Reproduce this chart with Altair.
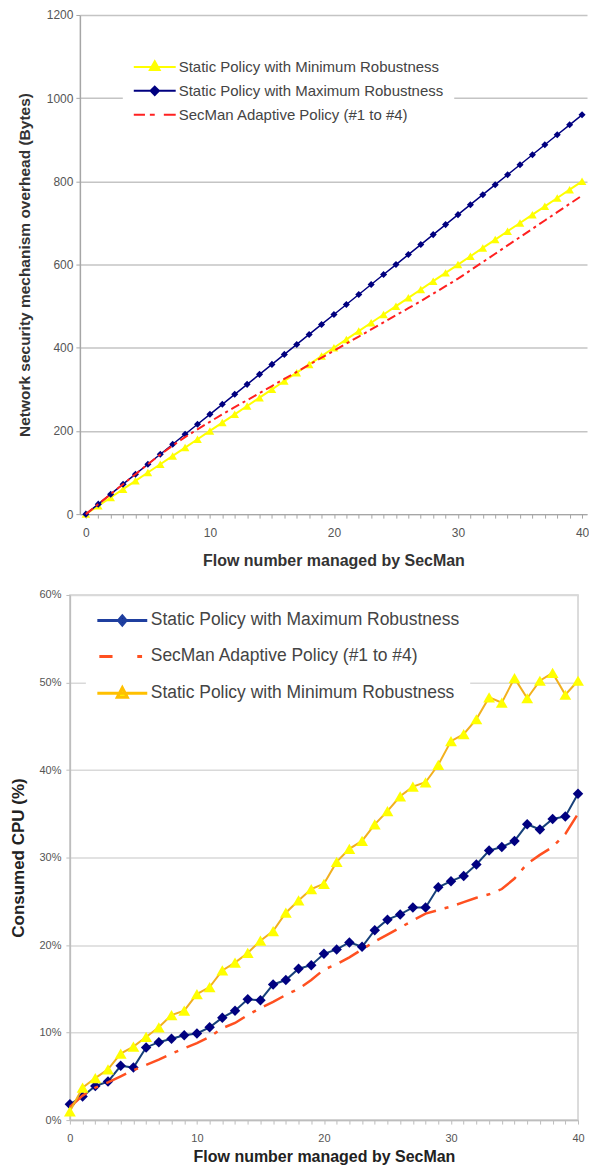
import altair as alt
import pandas as pd

FONT = "Liberation Sans"

flows = list(range(41))

# ---- top chart: network security mechanism overhead (Bytes)
top_series = [
    "Static Policy with Minimum Robustness",
    "Static Policy with Maximum Robustness",
    "SecMan Adaptive Policy (#1 to #4)",
]
overhead_min = [0, 20, 40, 60, 80, 100, 120, 140, 160, 180, 200, 220, 240, 260, 280, 300,
                320, 340, 360, 380, 400, 420, 440, 460, 480, 500, 520, 540, 560, 580, 600,
                620, 640, 660, 680, 700, 720, 740, 760, 780, 800]
overhead_max = [0, 24, 48, 72, 96, 120, 144, 168, 192, 216, 240, 264, 288, 312, 336, 360,
                384, 408, 432, 456, 480, 504, 528, 552, 576, 600, 624, 648, 672, 696, 720,
                744, 768, 792, 816, 840, 864, 888, 912, 936, 960]
overhead_adaptive = [0, 24, 48, 72, 96, 120, 143, 165, 185, 204, 222, 240, 257, 274, 291, 308,
                     325, 342, 359, 376, 393, 410, 427, 444, 461, 478, 495, 512, 530, 548, 566,
                     586, 606, 626, 646, 666, 686, 706, 726, 746, 766]

# ---- bottom chart: consumed CPU (%)
bottom_series = [
    "Static Policy with Maximum Robustness",
    "SecMan Adaptive Policy (#1 to #4)",
    "Static Policy with Minimum Robustness",
]
cpu_max = [1.8, 2.7, 3.9, 4.4, 6.2, 6.0, 8.3, 8.9, 9.3, 9.7, 9.9, 10.6, 11.7, 12.5, 13.8, 13.7,
           15.5, 16.0, 17.3, 17.7, 19.0, 19.5, 20.3, 19.8, 21.7, 22.9, 23.5, 24.3, 24.3, 26.6,
           27.3, 27.9, 29.2, 30.8, 31.2, 31.9, 33.8, 33.2, 34.4, 34.7, 37.3]
cpu_adaptive = [1.5, 2.8, 3.7, 4.3, 5.0, 5.7, 6.3, 6.9, 7.6, 8.2, 8.8, 9.5, 10.5, 11.1, 12.0,
                12.8, 13.5, 14.3, 15.0, 16.0, 17.2, 17.8, 18.6, 19.5, 20.4, 21.2, 22.0, 22.8,
                23.6, 24.0, 24.4, 24.9, 25.4, 25.8, 26.4, 27.6, 29.3, 30.3, 31.2, 32.7, 35.0]
cpu_min = [1.0, 3.7, 4.8, 5.8, 7.6, 8.4, 9.5, 10.6, 12.0, 12.5, 14.4, 15.2, 17.1, 18.0, 19.1,
           20.5, 21.6, 23.7, 25.1, 26.4, 27.0, 29.5, 31.0, 31.9, 33.8, 35.3, 37.0, 38.1, 38.6,
           40.6, 43.3, 44.1, 45.8, 48.3, 47.7, 50.5, 48.2, 50.2, 51.1, 48.6, 50.2]

top_ticks = [0, 200, 400, 600, 800, 1000, 1200]
bottom_ticks = [0, 10, 20, 30, 40, 50, 60]


def long_df(names, arrays):
    rows = []
    for name, vals in zip(names, arrays):
        for f, v in zip(flows, vals):
            rows.append({"flow": f, "value": v, "series": name})
    return pd.DataFrame(rows)


df_top = long_df(top_series, [overhead_min, overhead_max, overhead_adaptive])
df_bot = long_df(bottom_series, [cpu_max, cpu_adaptive, cpu_min])

# ---------------- TOP ----------------
x_top = alt.X(
    "flow:Q",
    scale=alt.Scale(domain=[-0.483, 40.40], range=[10, 518], nice=False, zero=False),
    axis=alt.Axis(values=flows, labelExpr="datum.value % 10 === 0 ? datum.label : ''",
                  labelOverlap=False, labelFlush=False, grid=False,
                  title="Flow number managed by SecMan",
                  tickSize=4, labelPadding=9, titlePadding=14,
                  domainColor="#a6a6a6", tickColor="#a6a6a6", domainWidth=1.5,
                  labelColor="#555", labelFont=FONT, labelFontSize=12,
                  titleFont=FONT, titleFontSize=16, titleFontWeight="bold", titleColor="#333"),
)
y_top = alt.Y(
    "value:Q",
    scale=alt.Scale(domain=[0, 1200], nice=False),
    axis=alt.Axis(values=top_ticks, format="d", offset=-10, grid=True, gridColor="#c4c4c4",
                  gridWidth=1.5, labelFlush=False,
                  title="Network security mechanism overhead (Bytes)",
                  tickSize=4, labelPadding=3, titlePadding=14,
                  domainColor="#a6a6a6", tickColor="#a6a6a6", domainWidth=1.5,
                  labelColor="#555", labelFont=FONT, labelFontSize=12,
                  titleFont=FONT, titleFontSize=15.5, titleFontWeight="bold", titleColor="#333"),
)


def series_layers(df, name, x, y, line_color, width, dash, shape, size, mcolor):
    base = alt.Chart(df).transform_filter(alt.datum.series == name)
    kw = dict(color=line_color, strokeWidth=width)
    if dash:
        kw["strokeDash"] = dash
    layers = [base.mark_line(**kw).encode(x=x, y=y)]
    if shape:
        layers.append(base.mark_point(shape=shape, filled=True, size=size, color=mcolor,
                                      opacity=1).encode(x=x, y=y))
    return layers


top_paths = [
    "M-1,0H5M2,-0.8L2.7,0.45L1.3,0.45Z",
    "M-1,0H5M2,-0.6L2.6,0L2,0.6L1.4,0Z",
    "M-1,0H0.6M1.3,0H2M3.3,0H5",
]
top_fill = ["#FFFF00", "#000080", "#FF2020"]
top_stroke = ["#FFFF00", "#000080", "#FF2020"]

leg_top = alt.Legend(title=None, orient="none", legendX=53, legendY=34, padding=10,
                     fillColor="white", symbolSize=196, symbolStrokeWidth=2,
                     labelOffset=30, rowPadding=7, labelFont=FONT, labelFontSize=15,
                     labelColor="#444", labelLimit=0)

legend_top = alt.Chart(df_top).transform_filter("false").mark_point(
    filled=True, opacity=1, strokeWidth=2).encode(
    x=x_top, y=y_top,
    fill=alt.Fill("series:N", scale=alt.Scale(domain=top_series, range=top_fill), legend=leg_top),
    stroke=alt.Stroke("series:N", scale=alt.Scale(domain=top_series, range=top_stroke), legend=leg_top),
    shape=alt.Shape("series:N", scale=alt.Scale(domain=top_series, range=top_paths), legend=leg_top),
)

top_layers = []
top_layers += series_layers(df_top, top_series[0], x_top, y_top, "#FFFF00", 2, None,
                            "triangle-up", 75, "#FFFF00")
top_layers += series_layers(df_top, top_series[1], x_top, y_top, "#000080", 1.5, None,
                            "diamond", 50, "#000080")
top_layers += series_layers(df_top, top_series[2], x_top, y_top, "#FF2020", 2, [9, 4, 3, 4],
                            None, 0, None)

top = alt.layer(*top_layers, legend_top).properties(
    width=518, height=500, view=alt.ViewBackground(stroke=None))

# ---------------- BOTTOM ----------------
x_bot = alt.X(
    "flow:Q",
    scale=alt.Scale(domain=[0, 40], nice=False, zero=False),
    axis=alt.Axis(values=flows, labelExpr="datum.value % 10 === 0 ? datum.label : ''",
                  labelOverlap=False, labelFlush=False, grid=False,
                  title="Flow number managed by SecMan",
                  tickSize=4, labelPadding=8, titlePadding=5,
                  domainColor="#bdbdbd", tickColor="#bdbdbd", domainWidth=1.5,
                  labelColor="#555", labelFont=FONT, labelFontSize=11,
                  titleFont=FONT, titleFontSize=16, titleFontWeight="bold", titleColor="#222"),
)
y_bot = alt.Y(
    "value:Q",
    scale=alt.Scale(domain=[0, 60], nice=False),
    axis=alt.Axis(values=bottom_ticks, labelExpr="datum.value + '%'", grid=True,
                  gridColor="#d9d9d9", gridWidth=1.5, labelFlush=False,
                  title="Consumed CPU (%)",
                  tickSize=4, labelPadding=5, titlePadding=11.5,
                  domainColor="#bdbdbd", tickColor="#bdbdbd", domainWidth=1.5,
                  labelColor="#555", labelFont=FONT, labelFontSize=11,
                  titleFont=FONT, titleFontSize=17, titleFontWeight="bold", titleColor="#222"),
)

bot_paths = [
    "M-1,0H5.25M2.125,-0.55L2.6,0L2.125,0.55L1.65,0Z",
    "M-0.75,0H0.9M4,0H4.6",
    "M-1,0H5.25M2.125,-0.7L2.75,0.5L1.5,0.5Z",
]
bot_fill = ["#000080", "#FF5020", "#FFFF00"]
bot_stroke = ["#1F3F9F", "#FF5020", "#FFC000"]

leg_bot = alt.Legend(title=None, orient="none", legendX=16, legendY=6, padding=10,
                     fillColor="white", symbolSize=256, symbolStrokeWidth=3,
                     labelOffset=36, rowPadding=16, labelFont=FONT, labelFontSize=17.5,
                     labelColor="#444", labelLimit=0)

legend_bot = alt.Chart(df_bot).transform_filter("false").mark_point(
    filled=True, opacity=1, strokeWidth=3).encode(
    x=x_bot, y=y_bot,
    fill=alt.Fill("series:N", scale=alt.Scale(domain=bottom_series, range=bot_fill), legend=leg_bot),
    stroke=alt.Stroke("series:N", scale=alt.Scale(domain=bottom_series, range=bot_stroke), legend=leg_bot),
    shape=alt.Shape("series:N", scale=alt.Scale(domain=bottom_series, range=bot_paths), legend=leg_bot),
)

bot_layers = []
bot_layers += series_layers(df_bot, bottom_series[0], x_bot, y_bot, "#17407A", 2, None,
                            "diamond", 110, "#000080")
bot_layers += series_layers(df_bot, bottom_series[1], x_bot, y_bot, "#FF5020", 2.5, [22, 9, 4, 9],
                            None, 0, None)
bot_layers += series_layers(df_bot, bottom_series[2], x_bot, y_bot, "#F2B01E", 2, None,
                            "triangle-up", 140, "#FFFF00")

bottom = alt.layer(*bot_layers, legend_bot).properties(
    width=509, height=526, view=alt.ViewBackground(stroke="#d0d0d0", strokeWidth=1.5))

chart = alt.vconcat(top, bottom, spacing=20).resolve_scale(
    fill="independent", stroke="independent", shape="independent"
).resolve_legend(fill="independent", stroke="independent", shape="independent"
).configure(font=FONT, background="white").properties(
    padding={"left": 0, "top": 0, "right": 0, "bottom": 0})

chart.save("out.html", embed_options={"renderer": "svg", "actions": False})
